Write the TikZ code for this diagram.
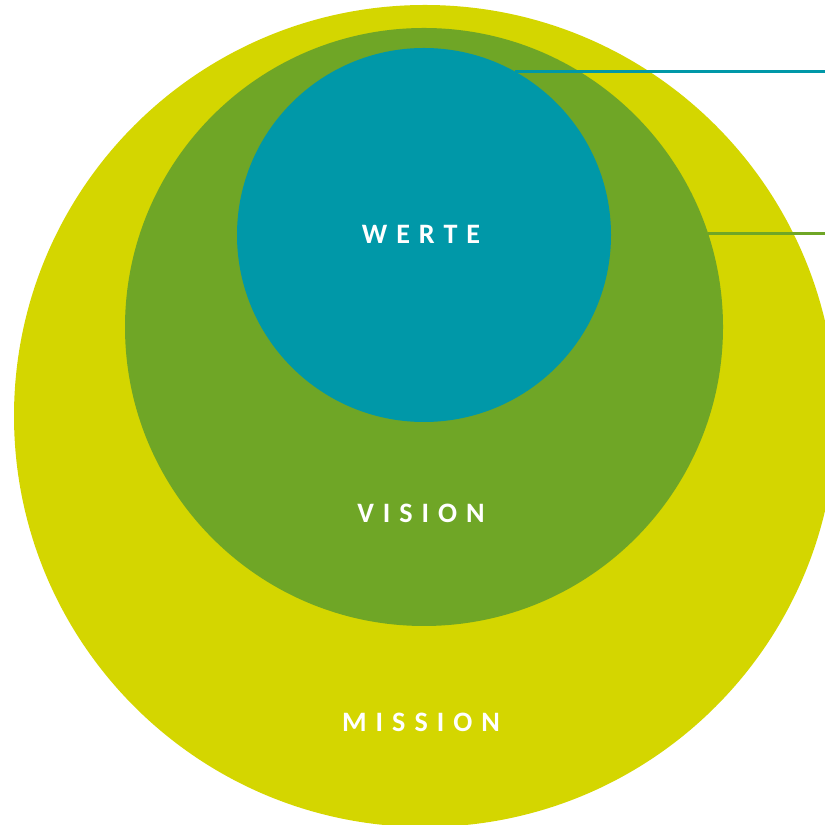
\documentclass[tikz,border=0pt]{standalone}
\usepackage{fontspec}
\setsansfont{Carlito}
\usepackage{tikz}

\definecolor{missiongelb}{HTML}{D4D600}
\definecolor{visiongruen}{HTML}{6FA626}
\definecolor{wertetuerkis}{HTML}{0098A8}

\tikzset{
  kreislabel/.style={text=white, font=\sffamily\bfseries\fontsize{24}{24}\selectfont\addfontfeature{LetterSpace=32}},
}

\begin{document}
\begin{tikzpicture}[x=0.03cm,y=0.03cm]
            \useasboundingbox (0,0) rectangle (825,824);
            \clip (0,0) rectangle (825,824);
            \coordinate (mitte1) at (425,408);
            \coordinate (mitte2) at (424,497);
            \coordinate (mitte3) at (424,589);
            \coordinate (rand) at (825,0);
            % circles
            \fill[missiongelb] (mitte1) circle (411);
            \fill[visiongruen] (mitte2) circle (299);
            \fill[wertetuerkis] (mitte3) circle (187);
            % pointers
            \path (mitte3) ++(60.8:187) coordinate (wertepunkt);
            \path (mitte2) ++(18.3:299) coordinate (visionpunkt);
            \draw[wertetuerkis,line width=2.6pt] (wertepunkt) -- (wertepunkt -| rand);
            \draw[visiongruen,line width=2.4pt] (visionpunkt) -- (visionpunkt -| rand);
            % labels
            \node[kreislabel] (werte) at (421,590) {WERTE};
            \node[kreislabel] (vision) at (421,311) {VISION};
            \node[kreislabel] (mission) at (421,102) {MISSION};
        \end{tikzpicture}
\end{document}
